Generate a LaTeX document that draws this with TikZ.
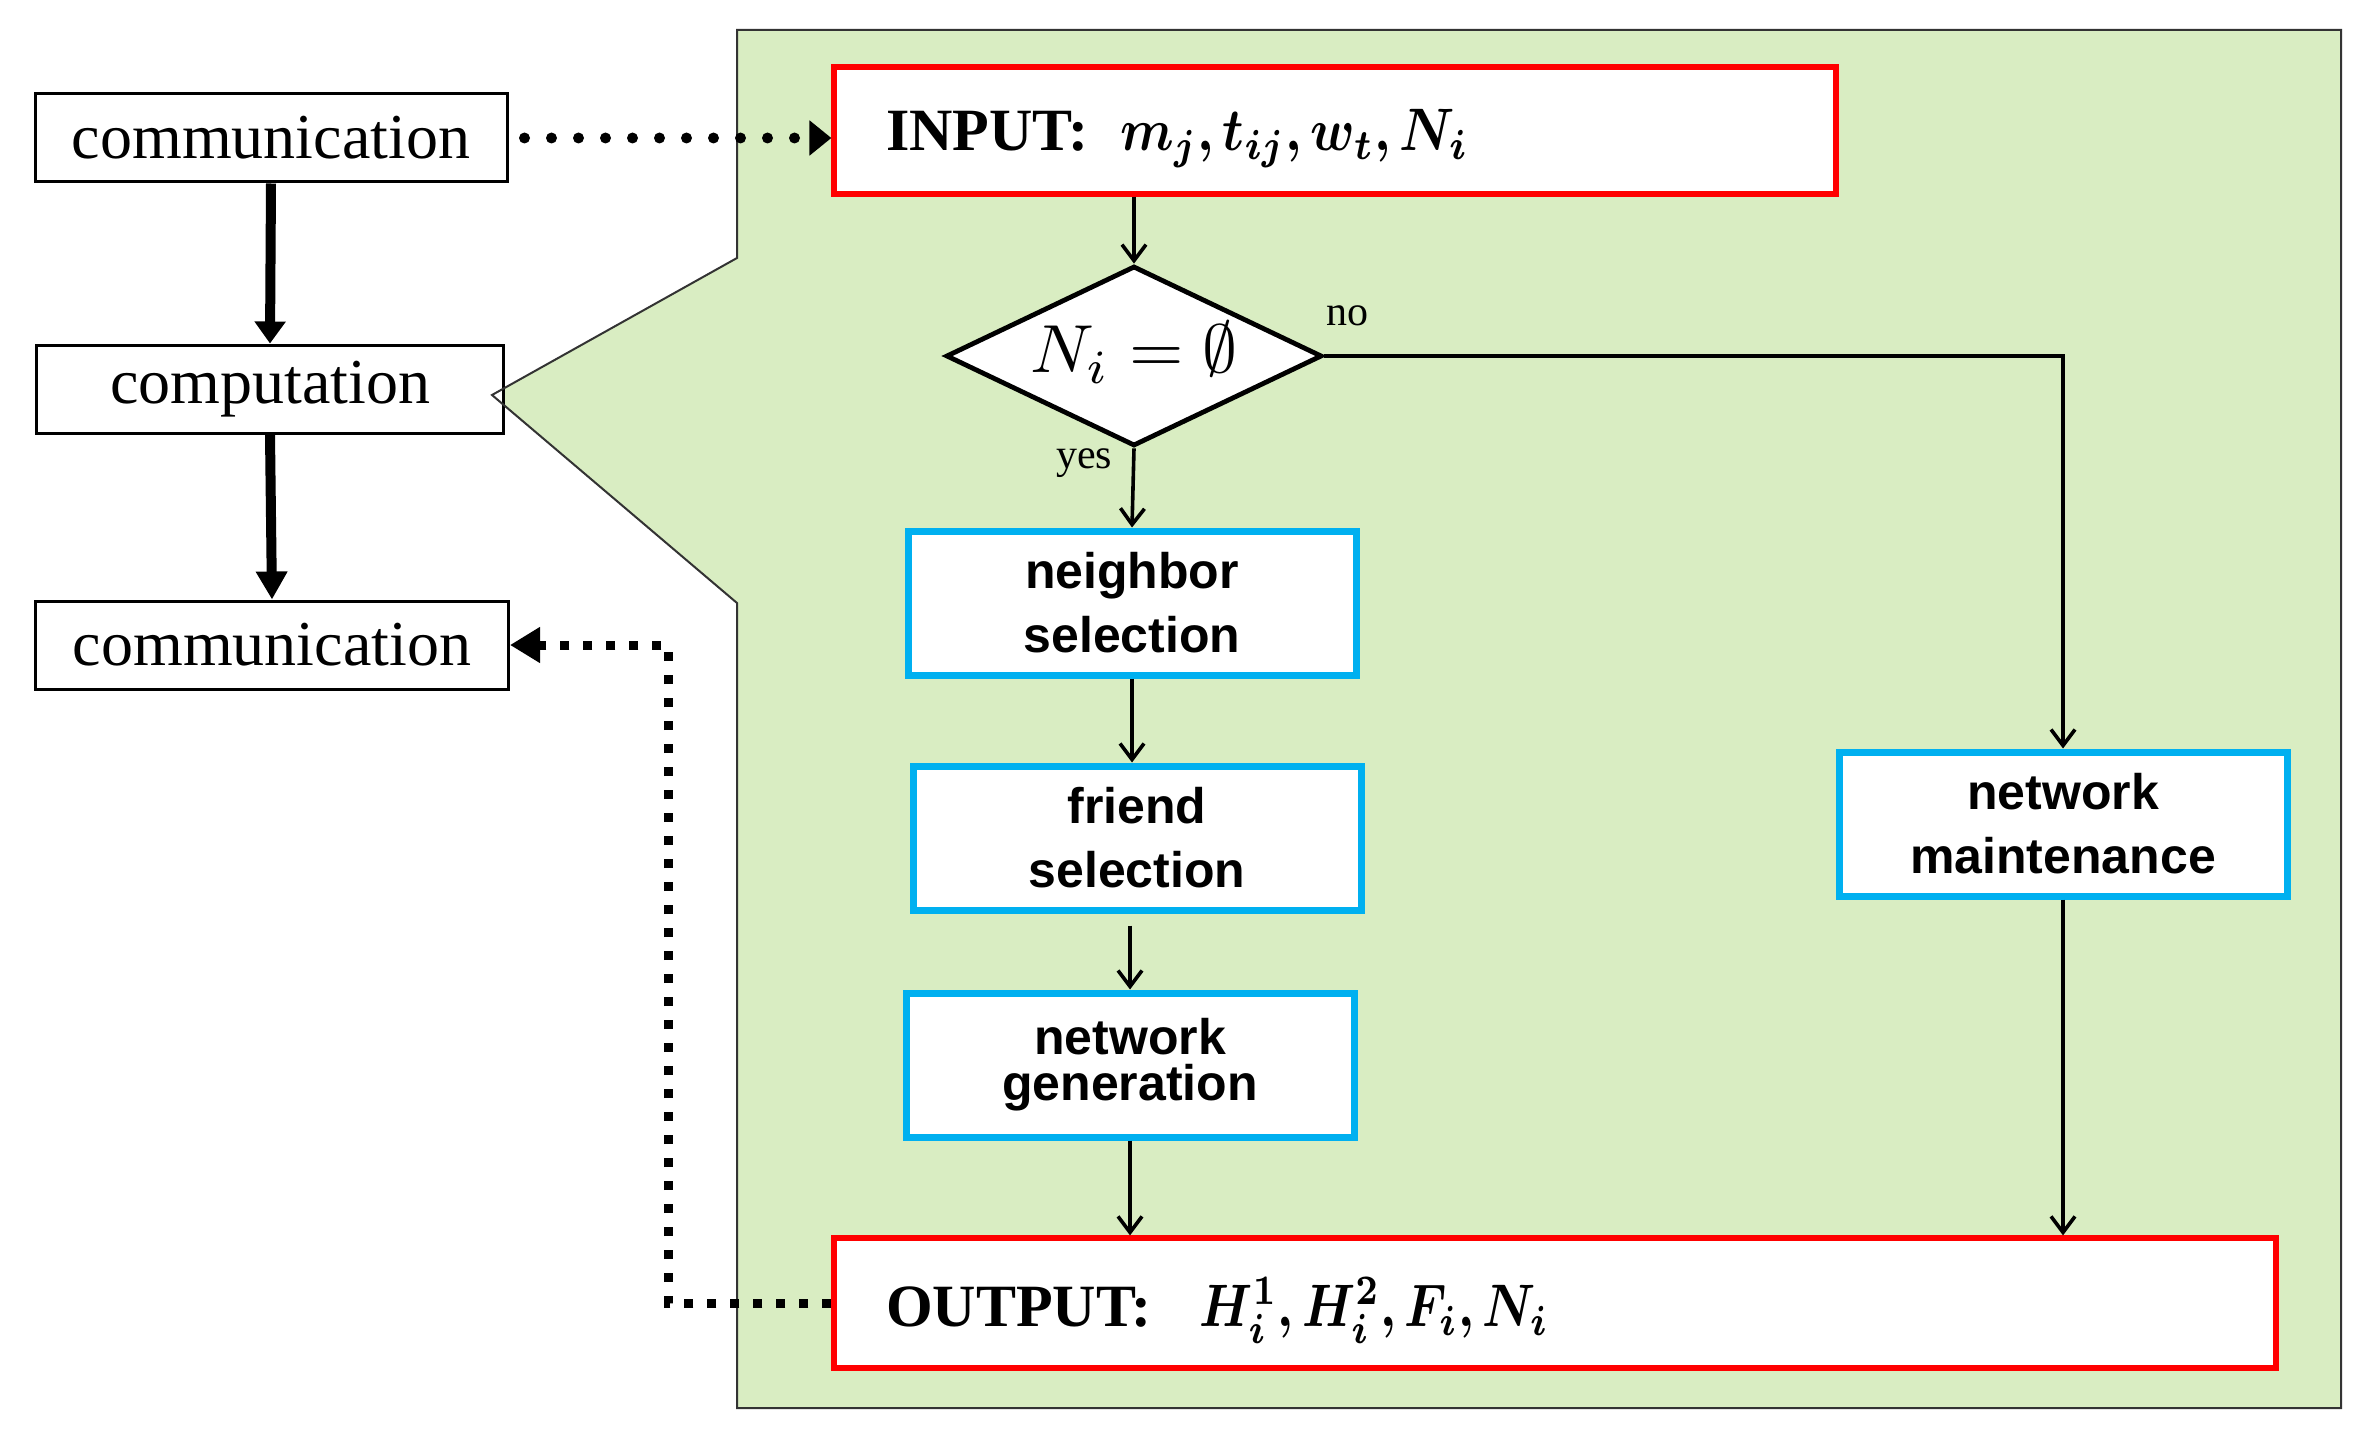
\documentclass[tikz,border=0pt]{standalone}
\usepackage{graphicx}
\usepackage{amsmath,bm}
\usepackage{fontspec}
\setmainfont{Liberation Serif}
\newfontfamily\arialf{Liberation Sans}
\usetikzlibrary{arrows.meta,shapes.geometric}
\definecolor{bgreen}{HTML}{D9EDC2}
\definecolor{bblue}{HTML}{00B0F0}
\definecolor{bred}{HTML}{FF0000}
\newcommand{\bigmath}[3]{{\fontsize{10}{12}\selectfont\scalebox{#1}[#2]{$#3$}}}
\tikzset{
  lbox/.style={draw, line width=1.5pt, fill=white, inner sep=0pt,
    minimum height=44pt, font=\fontsize{32}{38}\selectfont},
  rbox/.style={draw=bred, line width=2.6pt, fill=white, inner ysep=0pt,
    inner xsep=26pt, align=left, font=\fontsize{30}{36}\selectfont},
  bbox/.style={draw=bblue, line width=3.5pt, fill=white, inner sep=0pt,
    minimum width=224pt, minimum height=72pt, align=center,
    font=\arialf\bfseries\fontsize{25}{32}\selectfont},
  decision/.style={diamond, draw, line width=2.4pt, fill=white, inner sep=0pt,
    minimum width=188pt, minimum height=90pt},
  conn/.style={line width=1.8pt, -{Straight Barb[length=8pt,width=12pt,line width=1.8pt]}},
  thickarr/.style={line width=5pt, -{Triangle[length=11pt,width=15pt]}},
  dotround/.style={line width=5.5pt, line cap=round, dash pattern=on 0pt off 13.5pt,
    -{Triangle[length=11pt,width=17pt]}},
  dotsquare/.style={line width=4.5pt, dash pattern=on 4.5pt off 7pt,
    -{Triangle[length=15pt,width=17pt]}},
  lbl/.style={font=\fontsize{21}{24}\selectfont, inner sep=0pt}
}
\begin{document}
\begin{tikzpicture}[x=0.5pt,y=-0.5pt]
\useasboundingbox (0,0) rectangle (2374,1445);
\fill[bgreen] (737,30) -- (2341,30) -- (2341,1408) -- (737,1408) -- (737,603) -- (492,395) -- (737,258) -- cycle;

\node[lbox, minimum width=236pt] (comm1) at (271,138) {communication};
\node[lbox, minimum width=233.5pt] (comp) at (270,389) {computation};
\node[lbox, minimum width=236.5pt] (comm2) at (272,645) {communication};

\draw[line width=1pt, draw=black!80] (737,30) -- (2341,30) -- (2341,1408) -- (737,1408) -- (737,603) -- (492,395) -- (737,258) -- cycle;

\node[rbox, text width=449pt, minimum height=63.5pt, text height=25pt, text depth=5pt] (input) at (1335,130.5)
  {\textbf{INPUT:}\hspace{16pt}\bigmath{2.6}{3.0}{\bm{m_j, t_{ij}, w_t, N_i}}};
\node[decision] (dia) at (1134,356)
  {\smash{\makebox[0pt]{\raisebox{-8.5pt}{\bigmath{3.5}{3.4}{N_i=\emptyset}}}}};
\node[bbox] (neigh) at (1132,603) {neighbor\\selection};
\node[bbox] (friend) at (1137,838) {friend\\selection};
\node[bbox, font=\arialf\bfseries\fontsize{25}{23}\selectfont] (gen) at (1130,1065) {network\\generation};
\node[bbox] (maint) at (2063,824) {network\\maintenance};
\node[rbox, text width=669pt, minimum height=65pt, text height=27pt, text depth=4pt] (out) at (1555,1303)
  {\textbf{OUTPUT:}\hspace{24pt}\bigmath{2.5}{3.0}{\bm{H_i^1, H_i^2, F_i, N_i}}};

\node[lbl] (no) at (1347,316) {no};
\node[lbl] (yes) at (1084,463) {yes};

\draw[thickarr] (comm1.south) -- (comp.north);
\draw[thickarr, -{Triangle[length=14pt,width=15pt]}] (comp.south) -- (comm2.north);
\draw[dotround] ([xshift=8pt]comm1.east) -- (input.west |- comm1.east);
\draw[dotsquare] (out.west) -- ++(-163,0) |- (comm2.east);

\draw[conn] (input.south -| dia.north) -- (dia.north);
\draw[conn] (dia.south) -- (neigh.north);
\draw[conn] (neigh.south) -- (neigh.south |- friend.north);
\draw[conn] ([yshift=-6pt]friend.south -| gen.north) -- (gen.north);
\draw[conn] (gen.south) -- (gen.south |- out.north);
\draw[conn] (dia.east) -| (maint.north);
\draw[conn] (maint.south) -- (maint.south |- out.north);
\end{tikzpicture}
\end{document}
